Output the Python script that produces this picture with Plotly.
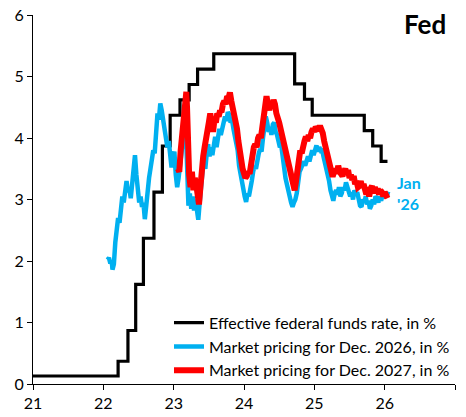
"""
Fed: effective funds rate vs. market pricing for Dec. 2026 / Dec. 2027
"""

import plotly.graph_objects as go

# Effective federal funds rate, in % (step line, x = year - 2000)
effr_x = [21.00, 22.21, 22.35, 22.46, 22.57, 22.72, 22.84, 22.95, 23.09, 23.22,
          23.34, 23.57, 24.72, 24.86, 24.97, 25.71, 25.83, 25.95, 26.04]
effr_y = [0.13, 0.37, 0.87, 1.62, 2.37, 3.12, 3.87, 4.37, 4.62, 4.87,
          5.12, 5.37, 4.88, 4.63, 4.37, 4.12, 3.87, 3.62, 3.62]

# Market pricing for Dec. 2026, in %
dec26_x = [22.06, 22.08, 22.10, 22.12, 22.13, 22.15, 22.17, 22.19, 22.21, 22.23,
           22.25, 22.27, 22.29, 22.31, 22.33, 22.35, 22.37, 22.39, 22.41, 22.43,
           22.45, 22.47, 22.49, 22.51, 22.53, 22.55, 22.57, 22.59, 22.61, 22.63,
           22.65, 22.67, 22.69, 22.71, 22.73, 22.75, 22.77, 22.79, 22.81, 22.83,
           22.85, 22.87, 22.89, 22.91, 22.93, 22.95, 22.97, 22.99, 23.01, 23.03,
           23.05, 23.07, 23.09, 23.11, 23.13, 23.15, 23.17, 23.19, 23.21, 23.23,
           23.25, 23.27, 23.29, 23.31, 23.33, 23.35, 23.37, 23.39, 23.41, 23.43,
           23.45, 23.47, 23.49, 23.51, 23.53, 23.55, 23.57, 23.59, 23.61, 23.63,
           23.65, 23.67, 23.69, 23.71, 23.73, 23.75, 23.77, 23.79, 23.81, 23.83,
           23.85, 23.87, 23.89, 23.91, 23.93, 23.95, 23.97, 23.99, 24.01, 24.03,
           24.05, 24.07, 24.09, 24.11, 24.13, 24.15, 24.17, 24.19, 24.21, 24.23,
           24.25, 24.27, 24.29, 24.31, 24.33, 24.35, 24.37, 24.39, 24.41, 24.43,
           24.45, 24.47, 24.49, 24.51, 24.53, 24.55, 24.57, 24.59, 24.61, 24.63,
           24.65, 24.67, 24.69, 24.71, 24.73, 24.75, 24.77, 24.79, 24.81, 24.83,
           24.85, 24.87, 24.89, 24.91, 24.93, 24.95, 24.97, 24.99, 25.01, 25.03,
           25.05, 25.07, 25.09, 25.11, 25.13, 25.15, 25.17, 25.19, 25.21, 25.23,
           25.25, 25.27, 25.29, 25.31, 25.33, 25.35, 25.37, 25.39, 25.41, 25.43,
           25.45, 25.47, 25.49, 25.51, 25.53, 25.55, 25.57, 25.59, 25.61, 25.63,
           25.65, 25.67, 25.69, 25.71, 25.73, 25.75, 25.77, 25.79, 25.81, 25.83,
           25.85, 25.87, 25.89, 25.91, 25.93, 25.95, 25.97, 25.99, 26.01, 26.03,
           26.05]
dec26_y = [2.02, 2.05, 1.96, 2.00, 1.86, 1.95, 2.30, 2.45, 2.70, 2.62,
           2.90, 3.05, 2.95, 3.20, 3.30, 3.12, 3.18, 3.02, 3.30, 3.45,
           3.72, 3.40, 3.20, 2.95, 3.05, 2.88, 2.95, 2.68, 2.90, 3.20,
           3.35, 3.50, 3.62, 3.80, 3.75, 4.15, 4.40, 4.30, 4.56, 4.45,
           4.30, 4.15, 4.00, 3.85, 3.95, 3.75, 3.52, 3.70, 3.78, 3.40,
           3.20, 3.35, 3.55, 3.90, 4.05, 4.15, 4.25, 3.60, 2.90, 3.10,
           2.85, 3.05, 2.82, 3.00, 2.80, 2.67, 2.95, 3.25, 3.45, 3.60,
           3.50, 3.75, 3.90, 3.70, 3.85, 3.72, 3.95, 4.02, 3.85, 4.05,
           4.15, 4.05, 4.20, 4.25, 4.35, 4.28, 4.42, 4.38, 4.25, 4.30,
           4.15, 4.05, 3.90, 3.80, 3.55, 3.40, 3.30, 3.15, 3.05, 2.96,
           3.10, 3.05, 3.25, 3.30, 3.45, 3.55, 3.50, 3.65, 3.75, 3.82,
           3.78, 4.00, 4.20, 4.35, 4.25, 4.10, 4.18, 4.05, 4.22, 4.25,
           4.10, 4.05, 3.95, 3.85, 3.88, 3.65, 3.50, 3.35, 3.25, 3.10,
           3.05, 2.95, 2.88, 2.95, 3.00, 3.10, 3.30, 3.45, 3.50, 3.55,
           3.62, 3.55, 3.65, 3.70, 3.62, 3.75, 3.80, 3.72, 3.85, 3.88,
           3.78, 3.85, 3.80, 3.82, 3.70, 3.60, 3.50, 3.45, 3.30, 3.15,
           3.05, 2.98, 3.10, 3.15, 3.08, 3.20, 3.05, 3.10, 3.20, 3.15,
           3.28, 3.20, 3.10, 3.05, 3.12, 3.00, 3.15, 3.08, 3.12, 2.95,
           2.90, 2.88, 3.00, 2.95, 3.05, 2.92, 2.98, 2.85, 2.90, 3.00,
           2.92, 3.05, 3.02, 2.95, 3.05, 2.98, 3.08, 3.02, 3.10, 3.05,
           3.13]

# Market pricing for Dec. 2027, in %
dec27_x = [23.06, 23.08, 23.10, 23.12, 23.14, 23.16, 23.18, 23.19, 23.20, 23.22,
           23.24, 23.26, 23.28, 23.30, 23.32, 23.34, 23.36, 23.38, 23.40, 23.42,
           23.44, 23.46, 23.48, 23.50, 23.52, 23.54, 23.56, 23.58, 23.60, 23.62,
           23.64, 23.66, 23.68, 23.70, 23.72, 23.74, 23.76, 23.78, 23.80, 23.82,
           23.84, 23.86, 23.88, 23.90, 23.92, 23.94, 23.96, 23.98, 24.00, 24.02,
           24.04, 24.06, 24.08, 24.10, 24.12, 24.14, 24.16, 24.18, 24.20, 24.22,
           24.24, 24.26, 24.28, 24.30, 24.32, 24.34, 24.36, 24.38, 24.40, 24.42,
           24.44, 24.46, 24.48, 24.50, 24.52, 24.54, 24.56, 24.58, 24.60, 24.62,
           24.64, 24.66, 24.68, 24.70, 24.72, 24.74, 24.76, 24.78, 24.80, 24.82,
           24.84, 24.86, 24.88, 24.90, 24.92, 24.94, 24.96, 24.98, 25.00, 25.02,
           25.04, 25.06, 25.08, 25.10, 25.12, 25.14, 25.16, 25.18, 25.20, 25.22,
           25.24, 25.26, 25.28, 25.30, 25.32, 25.34, 25.36, 25.38, 25.40, 25.42,
           25.44, 25.46, 25.48, 25.50, 25.52, 25.54, 25.56, 25.58, 25.60, 25.62,
           25.64, 25.66, 25.68, 25.70, 25.72, 25.74, 25.76, 25.78, 25.80, 25.82,
           25.84, 25.86, 25.88, 25.90, 25.92, 25.94, 25.96, 25.98, 26.00, 26.02,
           26.04]
dec27_y = [3.50, 3.45, 3.80, 4.05, 4.30, 4.60, 4.75, 4.50, 4.00, 3.40,
           3.20, 3.45, 3.15, 3.35, 3.25, 3.05, 2.92, 3.20, 3.55, 3.70,
           3.85, 3.95, 4.10, 4.25, 4.40, 4.20, 4.10, 4.30, 4.25, 4.40,
           4.35, 4.45, 4.42, 4.55, 4.60, 4.55, 4.68, 4.65, 4.74, 4.60,
           4.50, 4.35, 4.20, 4.15, 3.95, 3.85, 3.65, 3.50, 3.42, 3.35,
           3.38, 3.45, 3.42, 3.60, 3.70, 3.85, 3.90, 3.85, 4.00, 4.05,
           4.00, 4.15, 4.35, 4.55, 4.68, 4.55, 4.45, 4.60, 4.50, 4.62,
           4.55, 4.40, 4.35, 4.25, 4.15, 4.05, 3.90, 3.80, 3.65, 3.55,
           3.45, 3.35, 3.30, 3.20, 3.15, 3.30, 3.55, 3.70, 3.80, 3.75,
           3.90, 3.95, 4.02, 3.95, 4.05, 4.00, 4.10, 4.15, 4.10, 4.18,
           4.15, 4.12, 4.20, 4.15, 4.08, 3.95, 3.85, 3.72, 3.65, 3.55,
           3.42, 3.37, 3.45, 3.50, 3.42, 3.55, 3.45, 3.40, 3.38, 3.45,
           3.50, 3.42, 3.48, 3.35, 3.40, 3.32, 3.38, 3.25, 3.30, 3.20,
           3.22, 3.30, 3.20, 3.25, 3.12, 3.08, 3.20, 3.05, 3.18, 3.22,
           3.10, 3.20, 3.12, 3.18, 3.08, 3.15, 3.12, 3.05, 3.12, 3.08,
           3.02]

x_ticks = [21, 22, 23, 24, 25, 26, 27]
x_labels = ["21", "22", "23", "24", "25", "26", ""]
y_ticks = [0, 1, 2, 3, 4, 5, 6]

BLUE = "#00B0F0"
FONT = "Lato"

fig = go.Figure()

fig.add_trace(go.Scatter(
    x=effr_x, y=effr_y, mode="lines",
    line=dict(color="black", width=3.2, shape="hv"),
    name="Effective federal funds rate, in %"
))
fig.add_trace(go.Scatter(
    x=dec26_x, y=dec26_y, mode="lines",
    line=dict(color=BLUE, width=4.5),
    name="Market pricing for Dec. 2026, in %"
))
fig.add_trace(go.Scatter(
    x=dec27_x, y=dec27_y, mode="lines",
    line=dict(color="#FF0000", width=6),
    name="Market pricing for Dec. 2027, in %"
))

# "Fed" title, top right
fig.add_annotation(
    text="<b>Fed</b>", xref="paper", yref="paper", x=0.983, y=1.025,
    xanchor="right", yanchor="top", showarrow=False,
    font=dict(family=FONT, size=26, color="black")
)

# last-observation label
fig.add_annotation(
    text="<b>Jan<br>'26</b>", x=26.14, y=3.1, xanchor="left", yanchor="middle",
    showarrow=False, align="left",
    font=dict(family=FONT, size=16, color=BLUE)
)

# the page body adds 8px around the figure, so size and margins allow for it
fig.update_layout(
    width=458, height=409,
    margin=dict(l=25, r=11, t=7, b=33),
    plot_bgcolor="white", paper_bgcolor="white",
    font=dict(family=FONT, size=16, color="black"),
    showlegend=True,
    legend=dict(
        x=1.0, y=-0.01, xanchor="right", yanchor="bottom",
        bgcolor="rgba(0,0,0,0)", font=dict(family=FONT, size=16),
        tracegroupgap=0, itemwidth=30
    )
)

fig.update_xaxes(
    range=[21, 27], tickvals=x_ticks, ticktext=x_labels, automargin=False,
    showgrid=False, zeroline=False, showline=True, linecolor="black", linewidth=1,
    ticks="outside", ticklen=5, tickcolor="black", ticklabeloverflow="allow"
)
fig.update_yaxes(
    range=[0, 6], tickvals=y_ticks, automargin=False,
    showgrid=False, zeroline=False, showline=True, linecolor="black", linewidth=1,
    ticks="outside", ticklen=5, tickcolor="black", ticklabeloverflow="allow"
)

fig.write_html("out.html")
